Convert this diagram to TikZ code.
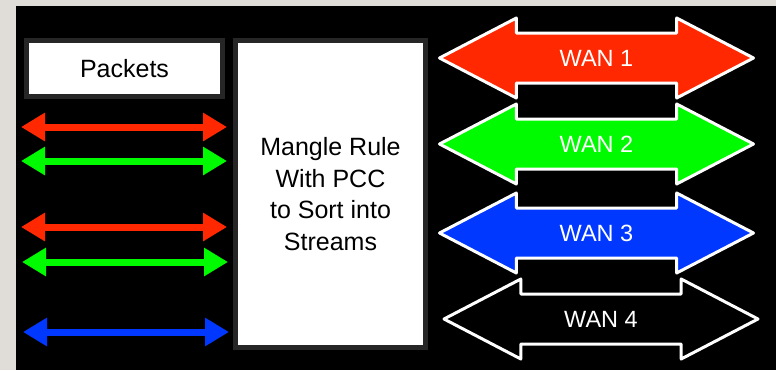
\documentclass[tikz,border=0pt]{standalone}
\usepackage{fontspec}
\setmainfont{Liberation Sans}
\usetikzlibrary{shapes.arrows,arrows.meta}
\definecolor{wanred}{RGB}{255,40,0}
\definecolor{wangreen}{RGB}{0,250,0}
\definecolor{wanblue}{RGB}{0,56,255}
\definecolor{slide}{RGB}{224,221,216}
\definecolor{boxedge}{RGB}{38,38,38}
\begin{document}
\begin{tikzpicture}[x=1pt,y=-1pt,
        box/.style={draw=boxedge, fill=white, line width=5pt, inner sep=0pt, align=center, font=\fontsize{25}{31.5}\selectfont},
        wan/.style={double arrow, draw=white, line width=3pt, line join=round, text=white,
            text height=17pt, text depth=0pt, inner xsep=0pt, inner ysep=15pt,
            minimum height=314pt, double arrow head extend=15pt,
            double arrow tip angle=55, font=\fontsize{23.5}{26}\selectfont},
        flow/.style={line width=7pt, {Triangle[length=24pt,width=27pt]}-{Triangle[length=24pt,width=27pt]}}]
        % slide and black panel
        \useasboundingbox (0,0) rectangle (776,370);
        \fill[slide] (0,0) rectangle (776,370);
        \fill[black] (16,6) rectangle (776,370);

        % left side
        \node[box, minimum width=196pt, minimum height=56pt] (packets) at (124.5,68.5) {Packets};
        \node[box, minimum width=190pt, minimum height=307pt] (mangle) at (330.5,194) {Mangle Rule\\With PCC\\to Sort into\\Streams};

        %packet streams
        \coordinate (r1w) at (21,127);   \coordinate (r1e) at (227,127);
        \coordinate (g1w) at (21,161);   \coordinate (g1e) at (227,161);
        \coordinate (r2w) at (21,227);   \coordinate (r2e) at (227,227);
        \coordinate (g2w) at (22,262);   \coordinate (g2e) at (228,262);
        \coordinate (b1w) at (23,332);   \coordinate (b1e) at (229,332);
        \draw[flow, wanred] (r1w) to (r1e);
        \draw[flow, wangreen] (g1w) to (g1e);
        \draw[flow, wanred] (r2w) to (r2e);
        \draw[flow, wangreen] (g2w) to (g2e);
        \draw[flow, wanblue] (b1w) to (b1e);

        % wan links
        \node[wan, fill=wanred] (wan1) at (596.5,58) {WAN 1};
        \node[wan, fill=wangreen] (wan2) at (596.5,144) {WAN 2};
        \node[wan, fill=wanblue] (wan3) at (596.5,233) {WAN 3};
        \node[wan, fill=black] (wan4) at (601,319) {WAN 4};
\end{tikzpicture}
\end{document}
